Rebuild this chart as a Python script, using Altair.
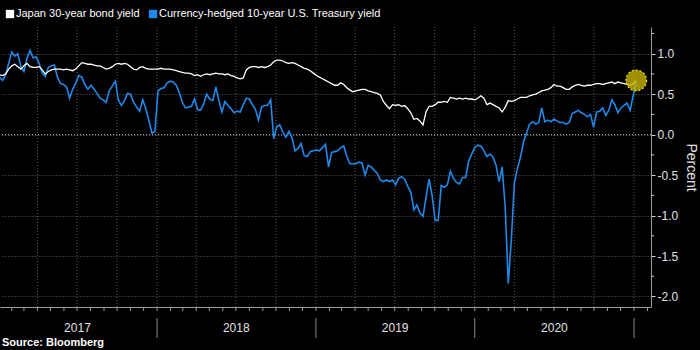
import altair as alt
import pandas as pd

series_names = ["Japan 30-year bond yield", "Currency-hedged 10-year U.S. Treasury yield"]
series_colors = ["#ffffff", "#1f88e8"]

week_start = "2017-01-04"
n_weeks = 210

japan_30y = [
    0.74, 0.73, 0.75, 0.81, 0.85, 0.87, 0.84, 0.81, 0.85, 0.88,
    0.84, 0.83, 0.83, 0.84, 0.80, 0.75, 0.78, 0.80, 0.81, 0.81,
    0.81, 0.80, 0.81, 0.80, 0.79, 0.81, 0.85, 0.89, 0.88, 0.87,
    0.87, 0.86, 0.85, 0.85, 0.83, 0.81, 0.82, 0.84, 0.87, 0.88,
    0.87, 0.88, 0.87, 0.84, 0.81, 0.80, 0.83, 0.84, 0.82, 0.81,
    0.81, 0.81, 0.81, 0.82, 0.81, 0.81, 0.81, 0.80, 0.79, 0.78,
    0.77, 0.76, 0.76, 0.75, 0.73, 0.74, 0.72, 0.74, 0.75, 0.74,
    0.75, 0.76, 0.75, 0.75, 0.74, 0.75, 0.73, 0.72, 0.70, 0.69,
    0.70, 0.80, 0.83, 0.84, 0.84, 0.83, 0.84, 0.83, 0.84, 0.86,
    0.90, 0.92, 0.92, 0.91, 0.89, 0.88, 0.89, 0.88, 0.86, 0.84,
    0.82, 0.81, 0.79, 0.76, 0.73, 0.71, 0.69, 0.67, 0.65, 0.63,
    0.61, 0.61, 0.64, 0.62, 0.58, 0.55, 0.53, 0.54, 0.55, 0.56,
    0.56, 0.54, 0.53, 0.52, 0.51, 0.49, 0.41, 0.36, 0.32, 0.37,
    0.36, 0.37, 0.35, 0.36, 0.32, 0.27, 0.19, 0.20, 0.17, 0.12,
    0.28, 0.35, 0.35, 0.37, 0.40, 0.40, 0.41, 0.40, 0.46, 0.45,
    0.44, 0.45, 0.44, 0.45, 0.44, 0.44, 0.43, 0.45, 0.48, 0.45,
    0.37, 0.39, 0.37, 0.35, 0.33, 0.28, 0.34, 0.42, 0.41, 0.42,
    0.44, 0.46, 0.46, 0.46, 0.48, 0.49, 0.50, 0.52, 0.54, 0.55,
    0.56, 0.58, 0.62, 0.60, 0.60, 0.58, 0.56, 0.56, 0.59, 0.61,
    0.62, 0.61, 0.60, 0.61, 0.61, 0.62, 0.63, 0.63, 0.62, 0.63,
    0.64, 0.65, 0.63, 0.65, 0.64, 0.63, 0.62, 0.61, 0.63, 0.67,
]

hedged_ust = [
    0.71, 0.67, 0.74, 0.88, 1.02, 0.97, 1.00, 0.84, 0.78, 0.94,
    1.04, 0.95, 0.96, 0.88, 0.76, 0.72, 0.83, 0.85, 0.86, 0.71,
    0.63, 0.62, 0.59, 0.45, 0.56, 0.64, 0.73, 0.71, 0.62, 0.56,
    0.61, 0.56, 0.51, 0.45, 0.43, 0.40, 0.54, 0.60, 0.66, 0.43,
    0.36, 0.42, 0.51, 0.50, 0.40, 0.34, 0.29, 0.43, 0.32, 0.18,
    0.02, 0.04, 0.54, 0.57, 0.58, 0.64, 0.66, 0.65, 0.61, 0.52,
    0.40, 0.33, 0.34, 0.35, 0.44, 0.31, 0.30, 0.38, 0.50, 0.44,
    0.42, 0.59, 0.42, 0.28, 0.41, 0.36, 0.32, 0.27, 0.29, 0.28,
    0.37, 0.45, 0.44, 0.37, 0.31, 0.18, 0.34, 0.36, 0.36, 0.43,
    -0.05, 0.10, 0.12, 0.03, -0.03, 0.04, -0.04, -0.20, -0.17, -0.11,
    -0.26, -0.27, -0.21, -0.20, -0.19, -0.20, -0.16, -0.12, -0.40, -0.22,
    -0.21, -0.20, -0.16, -0.14, -0.27, -0.36, -0.36, -0.36, -0.34, -0.35,
    -0.50, -0.38, -0.40, -0.44, -0.48, -0.56, -0.58, -0.56, -0.58, -0.56,
    -0.62, -0.54, -0.52, -0.55, -0.64, -0.71, -0.93, -0.87, -0.97, -1.01,
    -0.78, -0.55, -0.75, -1.06, -1.06, -0.63, -0.65, -0.62, -0.45, -0.54,
    -0.59, -0.61, -0.53, -0.53, -0.33, -0.24, -0.16, -0.13, -0.14, -0.20,
    -0.27, -0.24, -0.28, -0.38, -0.58, -0.40, -0.90, -1.84, -1.30, -0.60,
    -0.42, -0.28, -0.09, 0.02, 0.13, 0.16, 0.13, 0.15, 0.33, 0.16,
    0.18, 0.16, 0.19, 0.17, 0.15, 0.15, 0.13, 0.15, 0.26, 0.28,
    0.30, 0.27, 0.25, 0.22, 0.25, 0.09, 0.28, 0.29, 0.33, 0.24,
    0.30, 0.43, 0.37, 0.27, 0.33, 0.36, 0.39, 0.30, 0.48, 0.65,
]

year_labels = ["2017", "2018", "2019", "2020"]
year_mid = ["2017-07-02", "2018-07-02", "2019-07-02", "2020-07-02"]
year_breaks = ["2018-01-01", "2019-01-01", "2020-01-01", "2021-01-01"]
quarter_grid = [
    "2017-04-01", "2017-07-01", "2017-10-01", "2018-01-01",
    "2018-04-01", "2018-07-01", "2018-10-01", "2019-01-01",
    "2019-04-01", "2019-07-01", "2019-10-01", "2020-01-01",
    "2020-04-01", "2020-07-01", "2020-10-01", "2021-01-01",
]
y_ticks = [-2.0, -1.5, -1.0, -0.5, 0.0, 0.5, 1.0]
y_minor = [-1.75, -1.25, -0.75, -0.25, 0.25, 0.75, 1.25]

FONT = "Liberation Sans"
W, H = 651, 280

dates = pd.date_range(week_start, periods=n_weeks, freq="7D").strftime("%Y-%m-%d").tolist()
df_jp = pd.DataFrame({"date": dates, "value": japan_30y, "series": series_names[0]})
df_us = pd.DataFrame({"date": dates, "value": hedged_ust, "series": series_names[1]})
month_ticks = pd.date_range("2017-02-01", "2021-02-01", freq="MS").strftime("%Y-%m-%d").tolist()

xscale = alt.Scale(
    type="utc",
    domain=[alt.DateTime(year=2017, month=1, date=5, utc=True),
            alt.DateTime(year=2021, month=2, date=9, utc=True)],
)
yscale = alt.Scale(domain=[-2.13, 1.33], nice=False, zero=False)

xaxis = alt.Axis(grid=False, ticks=False, labels=False, domain=True,
                 domainColor="#9a9a9a", title=None)
yaxis = alt.Axis(
    orient="right", values=y_ticks, grid=True, gridColor="#5c5c5c", gridDash=[1, 2],
    tickColor="#cfcfcf", tickSize=4, labelColor="#e0e0e0", labelFontSize=12,
    labelFont=FONT, labelPadding=2,
    labelExpr="replace(format(datum.value, '.1f'), '\u2212', '-')",
    domainColor="#9a9a9a", title="Percent", titleAngle=90, titleColor="#e0e0e0",
    titleFontSize=14, titleFontWeight="normal", titleFont=FONT, titlePadding=6,
)

cscale = alt.Scale(domain=series_names, range=series_colors)

base_x = alt.X("d:T", scale=xscale, axis=xaxis)

vgrid = alt.Chart(pd.DataFrame({"d": quarter_grid})).mark_rule(
    color="#5c5c5c", strokeDash=[1, 2], strokeWidth=1
).encode(x=base_x)

zero = alt.Chart(pd.DataFrame({"v": [0.0]})).mark_rule(
    color="#bdbdbd", strokeDash=[1, 2], strokeWidth=1
).encode(y=alt.Y("v:Q", scale=yscale, axis=yaxis))

def line(df, w):
    return alt.Chart(df).mark_line(strokeWidth=w, interpolate="linear").encode(
        x=alt.X("date:T", scale=xscale, axis=xaxis),
        y=alt.Y("value:Q", scale=yscale, axis=yaxis),
        color=alt.Color("series:N", scale=cscale, legend=None),
    )

blue = line(df_us, 1.6)
white = line(df_jp, 1.3)

last = pd.DataFrame({"date": [dates[-1]], "value": [japan_30y[-1]]})
circle = alt.Chart(last).mark_point(
    shape="circle", filled=True, size=430, fill="#c8b400", fillOpacity=0.8,
    stroke="#f2e200", strokeDash=[2, 2], strokeWidth=1.2, strokeOpacity=1
).encode(x=alt.X("date:T", scale=xscale, axis=xaxis),
         y=alt.Y("value:Q", scale=yscale, axis=yaxis))

mticks = alt.Chart(pd.DataFrame({"d": month_ticks})).mark_rule(
    color="#9a9a9a", strokeWidth=1
).encode(x=base_x, y=alt.value(H), y2=alt.value(H + 4))

ysep = alt.Chart(pd.DataFrame({"d": year_breaks})).mark_rule(
    color="#8a8a8a", strokeWidth=1
).encode(x=base_x, y=alt.value(H + 11), y2=alt.value(H + 31))

ylab = alt.Chart(pd.DataFrame({"d": year_mid, "t": year_labels})).mark_text(
    color="#e0e0e0", font=FONT, fontSize=12, baseline="middle", align="center"
).encode(x=base_x, y=alt.value(H + 21), text="t:N")

yminor = alt.Chart(pd.DataFrame({"v": y_minor})).mark_rule(
    color="#cfcfcf", strokeWidth=1
).encode(y=alt.Y("v:Q", scale=yscale, axis=yaxis), x=alt.value(W), x2=alt.value(W + 3))

# legend
leg_df = pd.DataFrame({"name": series_names, "color": series_colors})
leg_sq1 = alt.Chart(leg_df.iloc[[0]]).mark_square(size=70, opacity=1, color=series_colors[0]).encode(
    x=alt.value(10), y=alt.value(-13))
leg_tx1 = alt.Chart(leg_df.iloc[[0]]).mark_text(
    align="left", baseline="middle", color="#ffffff", font=FONT, fontSize=11
).encode(x=alt.value(16), y=alt.value(-13), text="name:N")
leg_sq2 = alt.Chart(leg_df.iloc[[1]]).mark_square(size=70, opacity=1, color=series_colors[1]).encode(
    x=alt.value(153), y=alt.value(-13))
leg_tx2 = alt.Chart(leg_df.iloc[[1]]).mark_text(
    align="left", baseline="middle", color="#ffffff", font=FONT, fontSize=11
).encode(x=alt.value(159), y=alt.value(-13), text="name:N")

source = alt.Chart(pd.DataFrame({"t": ["Source: Bloomberg"]})).mark_text(
    align="left", baseline="middle", color="#ffffff", font=FONT, fontSize=11, fontWeight="bold"
).encode(x=alt.value(2), y=alt.value(H + 36), text="t:N")

chart = alt.layer(
    vgrid, zero, blue, white, circle, mticks, ysep, ylab, yminor,
    leg_sq1, leg_tx1, leg_sq2, leg_tx2, source
).properties(
    width=W, height=H,
    autosize=alt.AutoSizeParams(type="none"),
    padding={"left": 0, "top": 27, "right": 49, "bottom": 43},
).configure(background="#000000").configure_view(strokeWidth=0)

chart.save("out.html", embed_options={"renderer": "svg", "actions": False})
